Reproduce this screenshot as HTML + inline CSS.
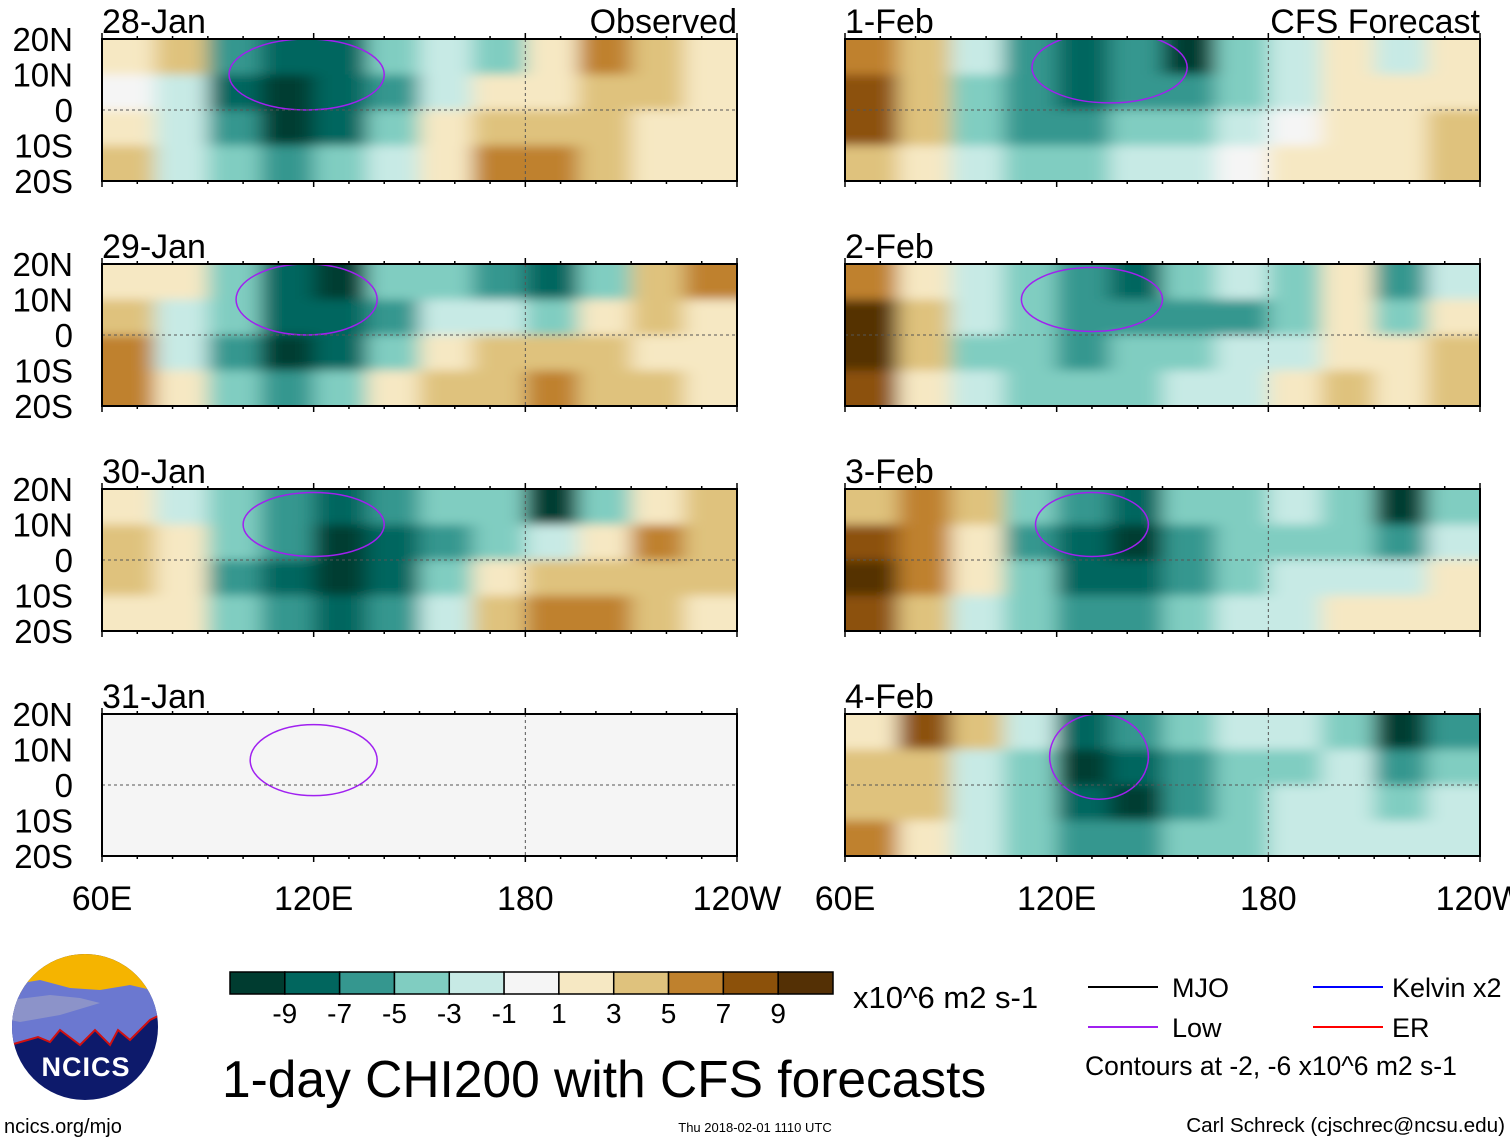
<!DOCTYPE html>
<html><head><meta charset="utf-8"><style>
html,body{margin:0;padding:0;background:#fff;}
svg{display:block;font-family:"Liberation Sans",Arial,sans-serif;}
</style></head><body>
<svg id="chart" width="1510" height="1142" viewBox="0 0 1510 1142">
<defs>
<filter id="blur" x="-5%" y="-10%" width="110%" height="120%"><feGaussianBlur stdDeviation="10 5"/></filter>
</defs>
<g id="panels"></g>
<g id="legend">
  <g>
    <clipPath id="logoClip"><circle cx="85" cy="1027" r="73"/></clipPath>
    <g clip-path="url(#logoClip)">
      <rect x="10" y="950" width="150" height="160" fill="#0d1a6b"/>
      <rect x="10" y="950" width="150" height="45" fill="#f5b400"/>
      <path d="M10 985 L40 980 L70 988 L100 990 L130 985 L160 992 L160 1015 L150 1020 L130 1040 L118 1030 L110 1045 L95 1030 L80 1045 L60 1030 L50 1042 L38 1037 L10 1045 Z" fill="#6b78d0"/>
      <path d="M10 1000 L50 995 L80 998 L100 1003 L60 1015 L20 1022 L10 1020 Z" fill="#8c93c9"/>
      <path d="M10 1045 L38 1037 L50 1042 L60 1030 L80 1045 L95 1030 L110 1045 L118 1030 L130 1040 L150 1020 L160 1015" fill="none" stroke="#d01010" stroke-width="2"/>
    </g>
    <text x="86" y="1076" font-size="27" font-weight="bold" fill="#fff" text-anchor="middle" letter-spacing="1">NCICS</text>
  </g>
  <text x="4" y="1133" font-size="20">ncics.org/mjo</text>
  <g id="cbar"></g>
  <text x="853" y="1008" font-size="31">x10^6 m2 s-1</text>
  <text x="222" y="1097" font-size="51.5">1-day CHI200 with CFS forecasts</text>
  <line x1="1088" y1="987" x2="1158" y2="987" stroke="#000" stroke-width="2"/>
  <text x="1172" y="997" font-size="27">MJO</text>
  <line x1="1088" y1="1027" x2="1158" y2="1027" stroke="#a020f0" stroke-width="2"/>
  <text x="1172" y="1037" font-size="27">Low</text>
  <line x1="1313" y1="987" x2="1383" y2="987" stroke="#0000ff" stroke-width="2"/>
  <text x="1392" y="997" font-size="27">Kelvin x2</text>
  <line x1="1313" y1="1027" x2="1383" y2="1027" stroke="#ff0000" stroke-width="2"/>
  <text x="1392" y="1037" font-size="27">ER</text>
  <text x="1085" y="1075" font-size="26.5">Contours at -2, -6 x10^6 m2 s-1</text>
  <text x="755" y="1132" font-size="13" text-anchor="middle">Thu 2018-02-01 1110 UTC</text>
  <text x="1505" y="1132" font-size="20.7" text-anchor="end">Carl Schreck (cjschrec@ncsu.edu)</text>
</g>
</svg>
<script>
// Data: 12 lon bins (15 deg, 60E..120W) x 4 lat bins (20N..20S), values in 10^6 m2/s
const panelTitles = ["28-Jan","29-Jan","30-Jan","31-Jan","1-Feb","2-Feb","3-Feb","4-Feb"];
const chi28Jan = [1,3,-5,-7,-7,-3,-1,-3,1,5,3,1, 0,-1,-7,-9,-7,-5,-1,1,1,3,3,1, 1,-1,-5,-9,-7,-3,1,3,3,3,1,1, 3,-1,-3,-5,-3,-1,1,5,5,3,1,1];
const chi29Jan = [1,1,-3,-7,-9,-3,-3,-5,-7,-3,3,5, 3,-1,-3,-7,-7,-5,-1,-1,-3,1,3,1, 5,-1,-5,-9,-7,-3,1,3,3,3,1,1, 5,1,-3,-5,-3,1,3,3,5,3,3,1];
const chi30Jan = [1,-1,-3,-5,-7,-5,-3,-3,-9,-3,1,3, 3,1,-3,-5,-9,-7,-5,-3,-1,1,5,3, 3,1,-5,-7,-9,-7,-3,1,3,3,3,3, 1,1,-3,-5,-7,-5,-1,3,5,5,3,1];
const chi31Jan = [0,0,0,0,0,0,0,0,0,0,0,0, 0,0,0,0,0,0,0,0,0,0,0,0, 0,0,0,0,0,0,0,0,0,0,0,0, 0,0,0,0,0,0,0,0,0,0,0,0];
const chi1Feb = [5,3,-1,-5,-7,-5,-9,-3,-1,1,-1,1, 7,3,-3,-5,-7,-5,-5,-3,-1,1,1,1, 7,3,-3,-5,-5,-3,-3,-1,0,1,1,3, 3,1,-1,-3,-3,-1,-1,0,1,1,1,3];
const chi2Feb = [5,1,-1,-3,-5,-7,-3,-1,-3,1,-5,-1, 9,3,-1,-3,-5,-5,-5,-5,-3,1,-3,1, 9,3,-3,-3,-5,-3,-3,-1,-1,1,1,3, 7,1,-1,-3,-3,-3,-1,-1,1,3,1,3];
const chi3Feb = [3,5,3,-3,-5,-7,-3,-3,-1,-3,-9,-3, 7,5,1,-5,-7,-9,-5,-3,-3,-3,-5,-1, 9,5,1,-3,-7,-7,-5,-3,-1,-1,-1,1, 7,3,-1,-3,-5,-5,-3,-1,-1,1,1,1];
const chi4Feb = [1,7,3,-1,-7,-5,-3,-1,-1,-3,-9,-5, 3,3,-1,-3,-9,-7,-5,-3,-3,-1,-5,-3, 3,3,-1,-3,-7,-9,-5,-3,-1,-1,-3,-1, 5,1,-1,-3,-5,-5,-3,-3,-1,-1,-1,-1];
const fields = [chi28Jan,chi29Jan,chi30Jan,chi31Jan,chi1Feb,chi2Feb,chi3Feb,chi4Feb];
// Low (purple) contour centres/extent per panel: lon, lat, half-width (deg lon), half-height (deg lat)
const lowLon = [118,118,120,120,135,130,130,132];
const lowLat = [10,10,10,7,12,10,10,8];
const lowRx = [22,20,20,18,22,20,16,14];
const lowRy = [10,10,9,10,10,9,9,12];
const cbarLevels = ["-9","-7","-5","-3","-1","1","3","5","7","9"];
const lonTicks = ["60E","120E","180","120W"];
const latTicks = ["20N","10N","0","10S","20S"];
const palette = ["#003c30","#01665e","#35978f","#80cdc1","#c7eae5","#f5f5f5","#f6e8c3","#dfc27d","#bf812d","#8c510a","#543005"];

const NS="http://www.w3.org/2000/svg";
function mk(tag, attrs, parent){const e=document.createElementNS(NS,tag);for(const k in attrs)e.setAttribute(k,attrs[k]);if(parent)parent.appendChild(e);return e;}
function colorFor(v){let i;if(v===0)i=5;else if(v<0)i=Math.round(4-(-v-1)/2);else i=Math.round(6+(v-1)/2);i=Math.max(0,Math.min(10,i));return palette[i];}
const PW=635, PH=142;
const colX=[102,845], rowY=[39,264,489,714];
function xs(px,lon){return px+(lon-60)/180*PW;}
function ys(py,lat){return py+(20-lat)/40*PH;}

const panels=document.getElementById('panels');
fields.forEach((f,p)=>{
  const px=colX[Math.floor(p/4)], py=rowY[p%4];
  const g=mk('g',{},panels);
  
  
  const cp=mk('clipPath',{id:'clip'+p},g);
  mk('rect',{x:px,y:py,width:PW,height:PH},cp);
  const cg=mk('g',{'clip-path':'url(#clip'+p+')'},g);
  const bg=mk('g',{filter:'url(#blur)'},cg);
  for(let r=0;r<4;r++)for(let c=0;c<12;c++){
    const v=f[r*12+c];
    let x0=xs(px,60+c*15), x1=xs(px,75+c*15), y0=ys(py,20-r*10), y1=ys(py,10-r*10);
    if(c===0)x0-=40; if(c===11)x1+=40; if(r===0)y0-=30; if(r===3)y1+=30;
    const rc=mk('rect',{x:x0,y:y0,width:x1-x0+0.5,height:y1-y0+0.5,fill:colorFor(v)},bg);
    
    
  }
  const el=mk('ellipse',{cx:xs(px,lowLon[p]),cy:ys(py,lowLat[p]),rx:lowRx[p]/180*PW,ry:lowRy[p]/40*PH,fill:'none',stroke:'#a020f0','stroke-width':1.5},cg);
  
  
  const eq=mk('line',{x1:px,x2:px+PW,y1:ys(py,0),y2:ys(py,0),stroke:'#555','stroke-dasharray':'3,3','stroke-width':1},cg);
  
  
  const dl=mk('line',{x1:xs(px,180),x2:xs(px,180),y1:py,y2:py+PH,stroke:'#555','stroke-dasharray':'3,3','stroke-width':1},cg);
  
  
  const fr=mk('rect',{x:px,y:py,width:PW,height:PH,fill:'none',stroke:'#000','stroke-width':2},g);
  
  
  for(let lon=60;lon<=240;lon+=10){
    const L=(lon%60===0)?6:3;
    mk('line',{x1:xs(px,lon),x2:xs(px,lon),y1:py,y2:py-L,stroke:'#000','stroke-width':1.5},g);
    mk('line',{x1:xs(px,lon),x2:xs(px,lon),y1:py+PH,y2:py+PH+L,stroke:'#000','stroke-width':1.5},g);
  }
  const t=mk('text',{x:px,y:py-6,'font-size':34},g);
  t.textContent=panelTitles[p];
  
  
  if(p%4===0){
    const t2=mk('text',{x:px+PW,y:py-6,'font-size':34,'text-anchor':'end'},g);
    t2.textContent=p===0?'Observed':'CFS Forecast';
    
    
  }
  if(p<4){
    latTicks.forEach((lt,i)=>{
      const tt=mk('text',{x:73,y:ys(py,20-i*10)+12,'font-size':33,'text-anchor':'end'},g);
      tt.textContent=lt;
      
      
    });
  }
  if(p%4===3){
    lonTicks.forEach((lt,i)=>{
      const tt=mk('text',{x:xs(px,60+i*60),y:py+PH+54,'font-size':34,'text-anchor':'middle'},g);
      tt.textContent=lt;
      
      
    });
  }
});

const cb=document.getElementById('cbar');
const cbX=230, cbW=603, cbY=972, cbH=22, bw=cbW/palette.length;
palette.forEach((col,i)=>{
  const r=mk('rect',{x:cbX+i*bw,y:cbY,width:bw,height:cbH,fill:col,stroke:'#000','stroke-width':1.5},cb);
  
  
});
cbarLevels.forEach((lv,i)=>{
  const t=mk('text',{x:cbX+(i+1)*bw,y:1023,'font-size':28,'text-anchor':'middle'},cb);
  t.textContent=lv;
  
  
});
</script>
</body></html>
